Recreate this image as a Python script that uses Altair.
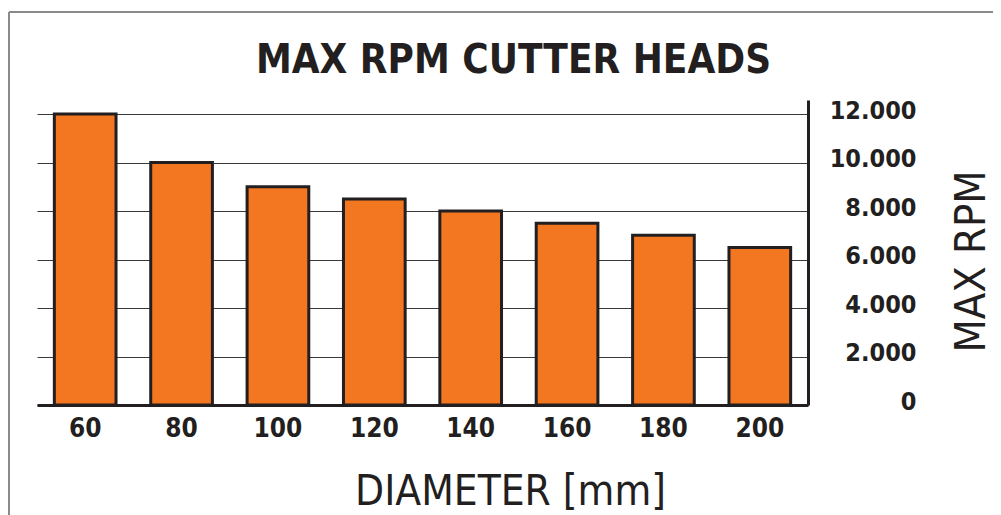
import altair as alt
import pandas as pd

# ---- data ----
diameters = ["60", "80", "100", "120", "140", "160", "180", "200"]
max_rpm = [12000, 10000, 9000, 8500, 8000, 7500, 7000, 6500]
y_ticks = [0, 2000, 4000, 6000, 8000, 10000, 12000]

df = pd.DataFrame({"diameter": diameters, "rpm": max_rpm})

FONT = "'DejaVu Sans Condensed', 'DejaVu Sans', sans-serif"
DARK = "#231F20"
ORANGE = "#F37621"

W, H = 771, 305

frame_df = pd.DataFrame({"k": [0]})
left_line = alt.Chart(frame_df).mark_rule(color="#8a8a8a", strokeWidth=2).encode(
    x=alt.value(-28), y=alt.value(-88), y2=alt.value(420)
)
top_line = alt.Chart(frame_df).mark_rule(color="#8a8a8a", strokeWidth=2).encode(
    x=alt.value(-28), x2=alt.value(1000), y=alt.value(-88)
)

bars = alt.Chart(df).mark_bar(color=ORANGE, stroke=DARK, strokeWidth=3).encode(
    x=alt.X(
        "diameter:N",
        sort=diameters,
        scale=alt.Scale(paddingInner=0.36, paddingOuter=0.18),
        axis=alt.Axis(
            title="DIAMETER [mm]",
            labelAngle=0,
            labelFont=FONT,
            labelFontSize=26,
            labelFontWeight="bold",
            labelColor=DARK,
            labelPadding=10,
            ticks=False,
            tickSize=0,
            grid=False,
            domainColor=DARK,
            domainWidth=3,
            titleFont=FONT,
            titleFontSize=42,
            titleFontWeight="normal",
            titleColor=DARK,
            titleX=473,
            titleY=99,
            titleAlign="center",
            titleBaseline="alphabetic",
        ),
    ),
    y=alt.Y(
        "rpm:Q",
        scale=alt.Scale(domain=[0, 12580], nice=False, zero=True),
        axis=alt.Axis(
            orient="right",
            values=y_ticks,
            title="MAX RPM",
            labelExpr="replace(format(datum.value, ','), ',', '.')",
            labelFont=FONT,
            labelFontSize=25,
            labelFontWeight="bold",
            labelColor=DARK,
            labelAlign="right",
            labelBaseline="middle",
            labelPadding=108,
            labelOffset=-4,
            ticks=False,
            tickSize=0,
            grid=True,
            gridColor="#3a3a3a",
            gridWidth=1,
            domainColor=DARK,
            domainWidth=3,
            titleFont=FONT,
            titleFontSize=43,
            titleFontWeight="normal",
            titleColor=DARK,
            titleAngle=270,
            titleX=176,
            titleY=161,
            titleAlign="center",
            titleBaseline="alphabetic",
        ),
    ),
)

chart = (
    alt.layer(left_line, top_line, bars)
    .properties(
        width=W,
        height=H,
        autosize=alt.AutoSizeParams(type="none"),
        padding={"left": 29, "top": 92, "right": 185, "bottom": 110},
        background="white",
        title=alt.TitleParams(
            "MAX RPM CUTTER HEADS",
            font=FONT,
            fontSize=40,
            fontWeight="bold",
            color=DARK,
            anchor="middle",
            dx=91,
            offset=-102,
            baseline="alphabetic",
        ),
    )
    .configure_view(stroke=None)
)

chart.save("out.html", embed_options={"renderer": "svg", "actions": False})
